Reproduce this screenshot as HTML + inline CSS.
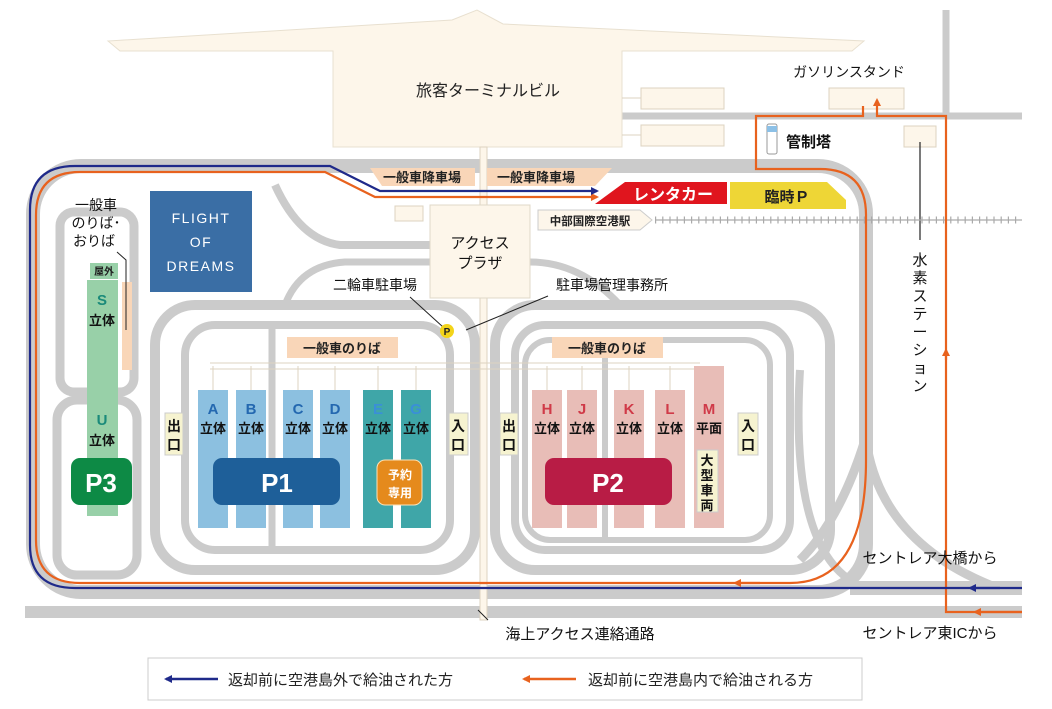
<!DOCTYPE html>
<html><head><meta charset="utf-8"><style>
html,body{margin:0;padding:0;background:#fff}
svg{display:block}
text{font-family:"Liberation Sans","Noto Sans CJK JP",sans-serif}
</style></head><body>
<svg width="1052" height="709" viewBox="0 0 1052 709" xmlns="http://www.w3.org/2000/svg">
<defs>
<marker id="ab" markerWidth="8" markerHeight="8" refX="6" refY="4" orient="auto" markerUnits="userSpaceOnUse"><path d="M0,0 L8,4 L0,8z" fill="#1f2a8a"/></marker>
<marker id="ao" markerWidth="8" markerHeight="8" refX="6" refY="4" orient="auto" markerUnits="userSpaceOnUse"><path d="M0,0 L8,4 L0,8z" fill="#e8621e"/></marker>
</defs>
<g fill="none" stroke="#cbcbcb">
<!-- outer loop -->
<rect x="33" y="166" width="833" height="426" rx="48" stroke-width="14"/>
<!-- bottom roads -->
<line x1="25" y1="612" x2="1022" y2="612" stroke-width="12"/>
<line x1="850" y1="588" x2="1022" y2="588" stroke-width="14"/>
<!-- top right roads -->
<line x1="622" y1="116" x2="1022" y2="116" stroke-width="7"/>
<line x1="946" y1="10" x2="946" y2="116" stroke-width="7"/>
<!-- P3 loops -->
<rect x="60" y="212" width="74" height="180" rx="14" stroke-width="9"/>
<rect x="57" y="400" width="80" height="175" rx="20" stroke-width="9"/>
<!-- P1 loops -->
<rect x="155" y="305" width="320" height="265" rx="40" stroke-width="10"/>
<rect x="185" y="325" width="265" height="225" rx="30" stroke-width="8"/>
<line x1="272" y1="325" x2="272" y2="550" stroke-width="7"/>
<!-- P2 loops -->
<rect x="495" y="305" width="335" height="265" rx="40" stroke-width="10"/>
<rect x="515" y="325" width="275" height="225" rx="30" stroke-width="8"/>
<rect x="525" y="340" width="245" height="200" rx="25" stroke-width="6"/>
<line x1="605" y1="340" x2="605" y2="540" stroke-width="6"/>
<!-- misc curves -->
<path d="M275,185 Q300,240 340,245 L430,245" stroke-width="8"/>
<path d="M285,305 Q300,265 345,262 L430,262" stroke-width="7"/>
<path d="M530,262 Q580,262 620,305" stroke-width="7"/>
<path d="M865,440 Q840,520 800,560" stroke-width="9"/>
<path d="M866,440 Q880,540 990,585" stroke-width="9"/>
<path d="M800,370 Q790,540 850,580" stroke-width="8"/>
</g>
<!-- terminal -->
<path d="M108,41 L120,51 L333,51 L333,147 L622,147 L622,51 L852,51 L864,41 L503,24 L477,10 L452,20 Z" fill="#fdf6ea" stroke="#e8e0d0"/>
<text x="488" y="96" font-size="16" text-anchor="middle" fill="#222">旅客ターミナルビル</text>
<g fill="#fdf6ea" stroke="#ddd3c0"><rect x="641" y="88" width="83" height="21"/><rect x="641" y="125" width="83" height="21"/><rect x="829" y="88" width="75" height="21"/><rect x="904" y="126" width="32" height="21"/><rect x="395" y="206" width="28" height="15"/></g>
<g stroke="#ddd3c0" fill="none"><path d="M622,98 H641 M622,135 H641"/></g>
<text x="849" y="77" font-size="14" text-anchor="middle" fill="#111">ガソリンスタンド</text>
<rect x="767" y="124" width="10" height="30" rx="2" fill="#fff" stroke="#999"/><rect x="767" y="126" width="10" height="6" fill="#8cc0e6"/>
<text x="786" y="147" font-size="15" font-weight="bold" fill="#111">管制塔</text>
<line x1="920" y1="142" x2="920" y2="240" stroke="#333" stroke-width="1.3"/>
<text font-size="15" fill="#111" text-anchor="middle"><tspan x="920" y="265">水</tspan><tspan x="920" y="283">素</tspan><tspan x="920" y="301">ス</tspan><tspan x="920" y="319">テ</tspan><tspan x="920" y="337">ー</tspan><tspan x="920" y="355">シ</tspan><tspan x="920" y="373">ョ</tspan><tspan x="920" y="391">ン</tspan></text>
<!-- walkway -->
<rect x="480" y="147" width="7" height="473" fill="#fdf6ea" stroke="#ddd3c0"/>
<path d="M210,363 H700 M210,369 H700" stroke="#ddd3c0" fill="none"/>
<g stroke="#ddd3c0" fill="none"><path d="M213,366 V390 M251,366 V390 M298,366 V390 M335,366 V390 M378,366 V390 M416,366 V390 M547,366 V390 M582,366 V390 M629,366 V390 M670,366 V390"/></g>
<!-- access plaza -->
<rect x="430" y="205" width="100" height="93" fill="#fdf6ea" stroke="#e0d8c8"/>
<text x="480" y="248" font-size="15" text-anchor="middle" fill="#111">アクセス</text>
<text x="480" y="268" font-size="15" text-anchor="middle" fill="#111">プラザ</text>
<!-- drop-off bands -->
<path d="M370,168 H475 V186 H382 Z" fill="#f9d6b8"/>
<path d="M487,168 H612 L595,186 H487 Z" fill="#f9d6b8"/>
<text x="422" y="182" font-size="13" font-weight="bold" text-anchor="middle" fill="#222">一般車降車場</text>
<text x="536" y="182" font-size="13" font-weight="bold" text-anchor="middle" fill="#222">一般車降車場</text>
<path d="M625,182 H727 V204 H595 Z" fill="#e0151e"/>
<text x="673" y="200" font-size="16" font-weight="bold" text-anchor="middle" fill="#fff">レンタカー</text>
<path d="M730,182 H827 L846,200 V209 H730 Z" fill="#eed636"/>
<text x="787" y="202" font-size="15" font-weight="bold" text-anchor="middle" fill="#222">臨時Ｐ</text>
<!-- rail -->
<line x1="655" y1="220" x2="1022" y2="220" stroke="#aaa" stroke-width="1.2"/>
<line x1="655" y1="220" x2="1022" y2="220" stroke="#aaa" stroke-width="7" stroke-dasharray="1.2,6"/>
<path d="M538,210 H640 L652,220 L640,230 H538 Z" fill="#fdf6ea" stroke="#ccc"/>
<text x="590" y="225" font-size="11.5" font-weight="bold" text-anchor="middle" fill="#222">中部国際空港駅</text>
<!-- flight of dreams -->
<rect x="150" y="191" width="102" height="101" fill="#3a6ea5"/>
<text font-size="14" fill="#fff" text-anchor="middle" letter-spacing="1.5"><tspan x="201" y="223">FLIGHT</tspan><tspan x="201" y="247">OF</tspan><tspan x="201" y="271">DREAMS</tspan></text>
<!-- labels mid -->
<text x="375" y="290" font-size="14" text-anchor="middle" fill="#111">二輪車駐車場</text>
<line x1="410" y1="297" x2="443" y2="327" stroke="#222"/>
<circle cx="447" cy="331" r="7" fill="#f3d41a"/><text x="447" y="335" font-size="10" font-weight="bold" text-anchor="middle" fill="#222">P</text>
<text x="612" y="290" font-size="14" text-anchor="middle" fill="#111">駐車場管理事務所</text>
<line x1="466" y1="330" x2="548" y2="296" stroke="#222"/>
<rect x="287" y="337" width="111" height="21" fill="#f9d6b8"/><text x="342" y="353" font-size="13" font-weight="bold" text-anchor="middle" fill="#222">一般車のりば</text>
<rect x="552" y="337" width="111" height="21" fill="#f9d6b8"/><text x="607" y="353" font-size="13" font-weight="bold" text-anchor="middle" fill="#222">一般車のりば</text>
<!-- P1 buildings -->
<g fill="#8cc0e0"><rect x="198" y="390" width="30" height="138"/><rect x="236" y="390" width="30" height="138"/><rect x="283" y="390" width="30" height="138"/><rect x="320" y="390" width="30" height="138"/></g>
<g fill="#3fa6a8"><rect x="363" y="390" width="30" height="138"/><rect x="401" y="390" width="30" height="138"/></g>
<g font-size="15" font-weight="bold" text-anchor="middle" fill="#2468b0"><text x="213" y="414">A</text><text x="251" y="414">B</text><text x="298" y="414">C</text><text x="335" y="414">D</text><text x="378" y="414" fill="#3a8fd8">E</text><text x="416" y="414" fill="#3a8fd8">G</text></g>
<g font-size="13" font-weight="bold" text-anchor="middle" fill="#111"><text x="213" y="433">立体</text><text x="251" y="433">立体</text><text x="298" y="433">立体</text><text x="335" y="433">立体</text><text x="378" y="433">立体</text><text x="416" y="433">立体</text></g>
<rect x="213" y="458" width="127" height="47" rx="9" fill="#1e5f99"/><text x="277" y="492" font-size="26" font-weight="bold" text-anchor="middle" fill="#fff">P1</text>
<rect x="377" y="460" width="45" height="45" rx="8" fill="#e58a1c" stroke="#fbe3b8"/><text x="400" y="479" font-size="12" font-weight="bold" text-anchor="middle" fill="#fff">予約</text><text x="400" y="497" font-size="12" font-weight="bold" text-anchor="middle" fill="#fff">専用</text>
<!-- P2 buildings -->
<g fill="#e8bdb7"><rect x="532" y="390" width="30" height="138"/><rect x="567" y="390" width="30" height="138"/><rect x="614" y="390" width="30" height="138"/><rect x="655" y="390" width="30" height="138"/><rect x="694" y="366" width="30" height="162"/></g>
<g font-size="15" font-weight="bold" text-anchor="middle" fill="#d03a48"><text x="547" y="414">H</text><text x="582" y="414">J</text><text x="629" y="414">K</text><text x="670" y="414">L</text><text x="709" y="414">M</text></g>
<g font-size="13" font-weight="bold" text-anchor="middle" fill="#111"><text x="547" y="433">立体</text><text x="582" y="433">立体</text><text x="629" y="433">立体</text><text x="670" y="433">立体</text><text x="709" y="433">平面</text></g>
<rect x="545" y="458" width="127" height="47" rx="9" fill="#b81c45"/><text x="608" y="492" font-size="26" font-weight="bold" text-anchor="middle" fill="#fff">P2</text>
<rect x="697" y="450" width="21" height="62" fill="#f6f3d0" stroke="#ccc"/>
<g font-size="13" font-weight="bold" text-anchor="middle" fill="#111"><text x="707" y="465">大</text><text x="707" y="480">型</text><text x="707" y="495">車</text><text x="707" y="510">両</text></g>
<!-- exits/entrances -->
<g fill="#f6f3d0" stroke="#ccc"><rect x="165" y="413" width="18" height="42"/><rect x="449" y="413" width="19" height="42"/><rect x="500" y="413" width="18" height="42"/><rect x="738" y="413" width="20" height="42"/></g>
<g font-size="14" font-weight="bold" text-anchor="middle" fill="#111"><text x="174" y="431">出</text><text x="174" y="450">口</text><text x="458" y="431">入</text><text x="458" y="450">口</text><text x="509" y="431">出</text><text x="509" y="450">口</text><text x="748" y="431">入</text><text x="748" y="450">口</text></g>
<!-- P3 -->
<rect x="87" y="280" width="31" height="236" fill="#98d0a8"/>
<rect x="122" y="282" width="10" height="88" fill="#f9d6b8"/>
<rect x="90" y="263" width="28" height="16" fill="#98d0a8"/><text x="104" y="275" font-size="10" font-weight="bold" text-anchor="middle" fill="#222">屋外</text>
<text x="102" y="305" font-size="15" font-weight="bold" text-anchor="middle" fill="#1a8a7a">S</text><text x="102" y="325" font-size="13" font-weight="bold" text-anchor="middle" fill="#111">立体</text>
<text x="102" y="425" font-size="15" font-weight="bold" text-anchor="middle" fill="#1a8a7a">U</text><text x="102" y="445" font-size="13" font-weight="bold" text-anchor="middle" fill="#111">立体</text>
<rect x="71" y="458" width="61" height="47" rx="9" fill="#0d8a45"/><text x="101" y="492" font-size="26" font-weight="bold" text-anchor="middle" fill="#fff">P3</text>
<g font-size="14" text-anchor="middle" fill="#111"><text x="96" y="210">一般車</text><text x="96" y="228">のりば･</text><text x="94" y="246">おりば</text></g>
<path d="M117,252 L126,260 V330" stroke="#222" fill="none"/>
<!-- routes -->
<path d="M1022,612 H946 V116 H877 V100" stroke="#e8621e" stroke-width="2.2" fill="none" marker-end="url(#ao)"/>
<path d="M946,360 V350" stroke="#e8621e" stroke-width="2.2" marker-end="url(#ao)"/>
<path d="M1022,612 H975" stroke="#e8621e" stroke-width="2.2" marker-end="url(#ao)"/>
<path d="M863,106 V116 H756 V169 H820 Q866,169 866,215 V460 Q866,583 790,583 H80 Q36,583 36,540 V215 Q36,172 80,172 H325 L375,197 H597" stroke="#e8621e" stroke-width="2.2" fill="none" marker-end="url(#ao)"/>
<path d="M760,583 H735" stroke="#e8621e" stroke-width="2.2" marker-end="url(#ao)"/>
<path d="M1022,588 H75 Q30,588 30,545 V210 Q30,166 75,166 H330 L380,191 H597" stroke="#1f2a8a" stroke-width="2.2" fill="none" marker-end="url(#ab)"/>
<path d="M1000,588 H970" stroke="#1f2a8a" stroke-width="2.2" marker-end="url(#ab)"/>
<!-- bottom labels -->
<line x1="478" y1="610" x2="488" y2="620" stroke="#222"/>
<text x="580" y="639" font-size="15" text-anchor="middle" fill="#111">海上アクセス連絡通路</text>
<text x="930" y="563" font-size="15" text-anchor="middle" fill="#111">セントレア大橋から</text>
<text x="930" y="638" font-size="15" text-anchor="middle" fill="#111">セントレア東ICから</text>
<!-- legend -->
<rect x="148" y="658" width="714" height="42" fill="#fff" stroke="#ccc"/>
<path d="M218,679 H166" stroke="#1f2a8a" stroke-width="2.5" marker-end="url(#ab)"/>
<text x="228" y="685" font-size="15" fill="#222">返却前に空港島外で給油された方</text>
<path d="M576,679 H524" stroke="#e8621e" stroke-width="2.5" marker-end="url(#ao)"/>
<text x="588" y="685" font-size="15" fill="#222">返却前に空港島内で給油される方</text>
</svg>
</body></html>
